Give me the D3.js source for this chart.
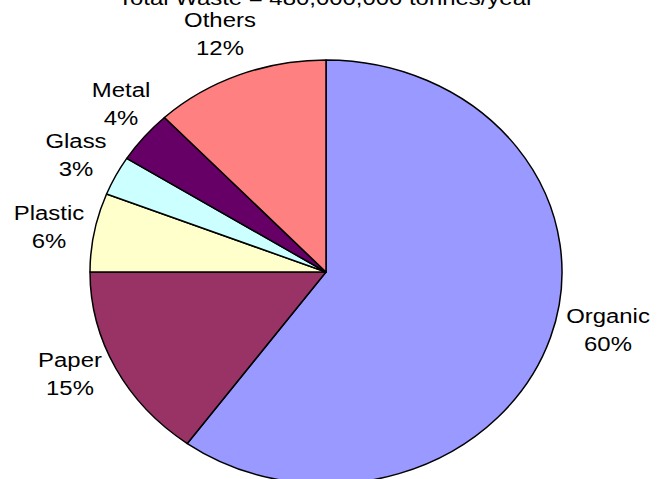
<!DOCTYPE html>
<html>
<head>
<meta charset="utf-8">
<script src="https://cdn.jsdelivr.net/npm/d3@7"></script>
<style>
  html, body { margin: 0; padding: 0; background: #fff; }
  svg { display: block; }
  text { font-family: "Liberation Sans", Arial, sans-serif; fill: #000; }
</style>
</head>
<body>
<svg id="chart" width="669" height="479"></svg>
<script>
// Composition of municipal waste (percent of total)
const title = "Total Waste = 480,000,000 tonnes/year";
const categories = ["Organic", "Paper", "Plastic", "Glass", "Metal", "Others"];
const shares = [60, 15, 6, 3, 4, 12];
const colors = ["#9999FF", "#993366", "#FFFFCC", "#CCFFFF", "#660066", "#FF8080"];

// Label placement (centre x, baseline of first line)
const labelPos = {
  Organic: [608, 323],
  Paper:   [70, 367],
  Plastic: [49, 220],
  Glass:   [76, 148],
  Metal:   [121, 97],
  Others:  [220, 27]
};

const cx = 326, cy = 272, r = 212, stretch = 236 / 212;
const textStretch = 1.15, fontSize = 20.8, lineGap = 28.5;

const svg = d3.select("#chart");

const data = categories.map((c, i) => ({ name: c, value: shares[i], color: colors[i] }));

const pie = d3.pie().value(d => d.value).sort(null);
const arc = d3.arc().innerRadius(0).outerRadius(r);

const g = svg.append("g")
  .attr("transform", `translate(${cx},${cy}) scale(${stretch},1)`);

g.selectAll("path")
  .data(pie(data))
  .join("path")
  .attr("d", arc)
  .attr("fill", d => d.data.color)
  .attr("stroke", "#000")
  .attr("stroke-width", 1.5)
  .attr("stroke-linejoin", "round")
  .attr("vector-effect", "non-scaling-stroke");

// Title, running off the top edge
svg.append("text")
  .attr("transform", `translate(${cx},5) scale(${textStretch},1)`)
  .attr("text-anchor", "middle")
  .attr("font-size", fontSize)
  .text(title);

// Category labels with percentages
const labels = svg.selectAll("g.label")
  .data(data)
  .join("g")
  .attr("class", "label")
  .attr("transform", d => `translate(${labelPos[d.name][0]},${labelPos[d.name][1]}) scale(${textStretch},1)`);

labels.append("text")
  .attr("text-anchor", "middle")
  .attr("font-size", fontSize)
  .text(d => d.name);

labels.append("text")
  .attr("text-anchor", "middle")
  .attr("font-size", fontSize)
  .attr("y", lineGap)
  .text(d => d.value + "%");
</script>
</body>
</html>
